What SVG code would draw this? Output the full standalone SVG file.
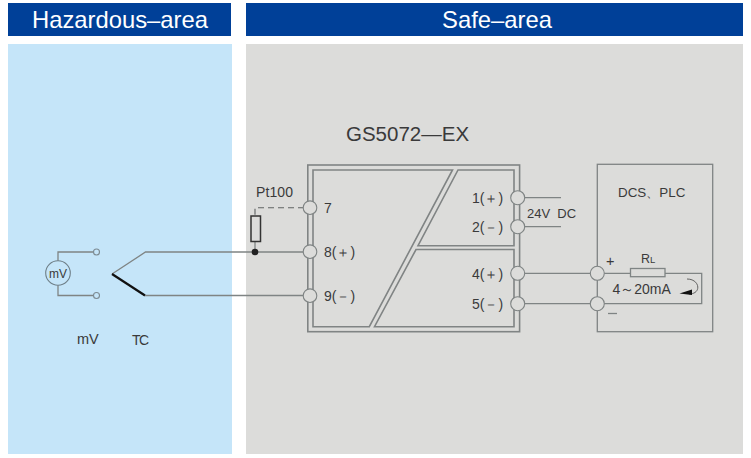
<svg xmlns="http://www.w3.org/2000/svg" width="751" height="458" viewBox="0 0 751 458">
<style>
text{font-family:"Liberation Sans",Arial,sans-serif;fill:#3a3a3a}
.hd{fill:#004098}
.ht{font-size:23.800px;fill:#fff;text-anchor:middle}
.l{font-size:14px}
.w{fill:none;stroke:#7f8484;stroke-width:1.3}
.w2{fill:none;stroke:#808484;stroke-width:1.6}
.t{fill:#dcdcda;stroke:#7f8484;stroke-width:1.1}
.tb{fill:#c5e5f9;stroke:#7c8a92;stroke-width:1.1}
</style>
<rect width="751" height="458" fill="#fff"/>
<g id="hazard-panel"><rect class="hd" x="8" y="3" width="223" height="33"/><text class="ht" x="120" y="28">Hazardous–area</text><rect x="8" y="44" width="224" height="410" fill="#c5e5f9"/></g>
<g id="safe-panel"><rect class="hd" x="246" y="3" width="497" height="33"/><text class="ht" x="497" y="28">Safe–area</text><rect x="246" y="44" width="497" height="410" fill="#dcdcda"/></g>
<g id="connectors">
<path class="w" d="M58 261V252H93M58 285V295.500H93"/>
<path class="w" d="M112 274L145.500 252H304"/>
<path d="M112 274L145 295.500" fill="none" stroke="#111" stroke-width="2.200"/>
<path class="w" d="M145 295.500H304"/>
<path d="M304 207.700H255V216" fill="none" stroke="#5f6363" stroke-width="1.100" stroke-dasharray="6 4"/>
<path class="w" d="M255 241V252"/>
<path class="w" d="M524 197.700H561M524 226.700H561"/>
<path class="w" d="M524.500 273.300H591M524.500 303.700H591"/>
<path class="w" d="M604 273.300H630.500M665 273.300H701.700V303.700H604"/>
</g>
<g id="mv-source"><circle cx="58" cy="273" r="12.300" fill="#c5e5f9" stroke="#6f7f88" stroke-width="1.100"/><text x="58" y="277.500" font-size="12" text-anchor="middle">mV</text><circle class="tb" cx="96.500" cy="252" r="3"/><circle class="tb" cx="96.500" cy="295.500" r="3"/><text x="77" y="344" font-size="14.500">mV</text></g>
<g id="tc"><text x="132" y="344.500" font-size="14" textLength="17">TC</text></g>
<g id="pt100"><text class="l" x="256" y="197" textLength="37">Pt100</text><rect x="251" y="216" width="9.500" height="25.500" fill="none" stroke="#333" stroke-width="1.500"/><circle cx="255" cy="252" r="3.300" fill="#222"/></g>
<g id="gs5072"><text x="346" y="140.500" font-size="20.500" fill="#333">GS5072—EX</text>
<rect class="w2" x="307.800" y="165" width="211.800" height="166.700"/>
<path class="w2" d="M313 170H452.500L369.300 326.700H313Z"/>
<path class="w2" d="M458 170H514V245.700H418Z"/>
<path class="w2" d="M416 249.500H514V326.700H374.500Z"/>
<circle class="t" cx="310" cy="207.700" r="6.800"/><circle class="t" cx="310" cy="251.700" r="6.800"/><circle class="t" cx="310" cy="295.700" r="6.800"/>
<circle class="t" cx="517.700" cy="197.700" r="7"/><circle class="t" cx="517.700" cy="226.700" r="7"/><circle class="t" cx="517.700" cy="273.300" r="7"/><circle class="t" cx="517.700" cy="303.700" r="7"/>
<text class="l" x="324" y="213">7</text><text class="l" x="324" y="256.500">8(＋)</text><text class="l" x="324" y="300.500">9(－)</text>
<text class="l" x="472" y="202.500">1(＋)</text><text class="l" x="472" y="231.500">2(－)</text><text class="l" x="472" y="278.500">4(＋)</text><text class="l" x="472" y="308.500">5(－)</text></g>
<g id="supply"><text x="527" y="218" font-size="13" xml:space="preserve">24V  DC</text></g>
<g id="dcs-plc"><rect x="597.300" y="164.300" width="115.400" height="167.400" fill="none" stroke="#7f8484" stroke-width="1.300"/>
<circle class="t" cx="597.300" cy="273.300" r="7"/><circle class="t" cx="597.300" cy="303.700" r="7"/>
<text x="618" y="197" font-size="13.400">DCS、PLC</text>
<text x="606" y="266" font-size="14.500">+</text>
<path class="w" d="M608 313.500H617"/>
<text x="641" y="263" font-size="12.500">R<tspan font-size="9.500">L</tspan></text>
<rect x="630.500" y="268.500" width="34.500" height="8.200" fill="none" stroke="#7f8484" stroke-width="1.300"/>
<text x="612.500" y="294" font-size="14">4～20mA</text>
<path d="M687 279C700 279 702 294 689 294" fill="none" stroke="#555" stroke-width=".9"/>
<path d="M679.500 293.500L692 289.500V295Z" fill="#111"/></g>
</svg>
